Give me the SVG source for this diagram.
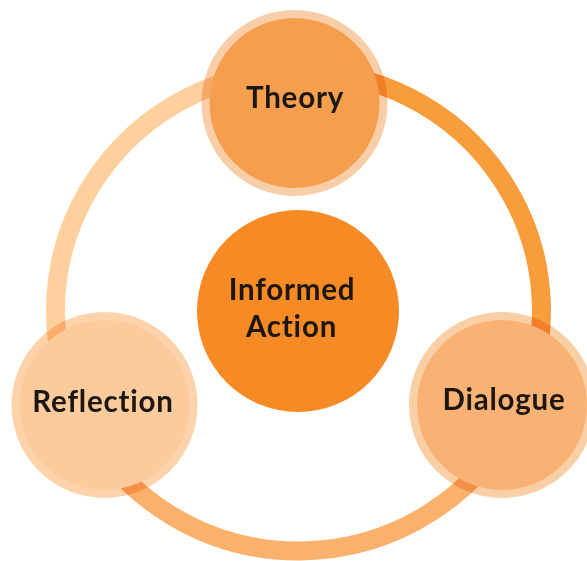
<svg xmlns="http://www.w3.org/2000/svg" width="587" height="561" viewBox="0 0 587 561">
<style>
.ring{fill:none;stroke-width:19;stroke-linecap:butt}
.halo{fill:none;stroke-width:9;mix-blend-mode:multiply}
.lbl{font-family:"Lato","Open Sans","DejaVu Sans",sans-serif;font-weight:700;font-size:29.5px;letter-spacing:0.8px;fill:#1c1712;text-anchor:middle}
</style>
<rect width="587" height="561" fill="#ffffff"/>
<g id="connectors">
<path class="ring" stroke="#f89d3b" d="M298.5,71 A243,240 0 0 1 518.7,412.4"/>
<path class="ring" stroke="#f9b16b" d="M518.7,412.4 A243,240 0 0 1 80.1,416.2"/>
<path class="ring" stroke="#fdd09d" d="M80.1,416.2 A243,240 0 0 1 298.5,71"/>
</g>
<g id="theory">
<circle class="halo" cx="294.5" cy="103" r="88.5" stroke="#f8cea9"/>
<circle cx="294.5" cy="103" r="85" fill="#f59e4e"/>
<text class="lbl" x="295" y="108">Theory</text>
</g>
<g id="dialogue">
<circle class="halo" cx="502" cy="405" r="88.5" stroke="#f9cfa6"/>
<circle cx="502" cy="405" r="85" fill="#f9b273"/>
<text class="lbl" x="504" y="410">Dialogue</text>
</g>
<g id="reflection">
<circle class="halo" cx="104.5" cy="405" r="88.5" stroke="#fcd3ab"/>
<circle cx="104.5" cy="405" r="85" fill="#fbcb9c"/>
<text class="lbl" x="103" y="412">Reflection</text>
</g>
<g id="informed-action">
<circle cx="298" cy="311" r="101" fill="#f68a25"/>
<text class="lbl" x="292" y="300">Informed</text>
<text class="lbl" x="291.5" y="337">Action</text>
</g>
</svg>
